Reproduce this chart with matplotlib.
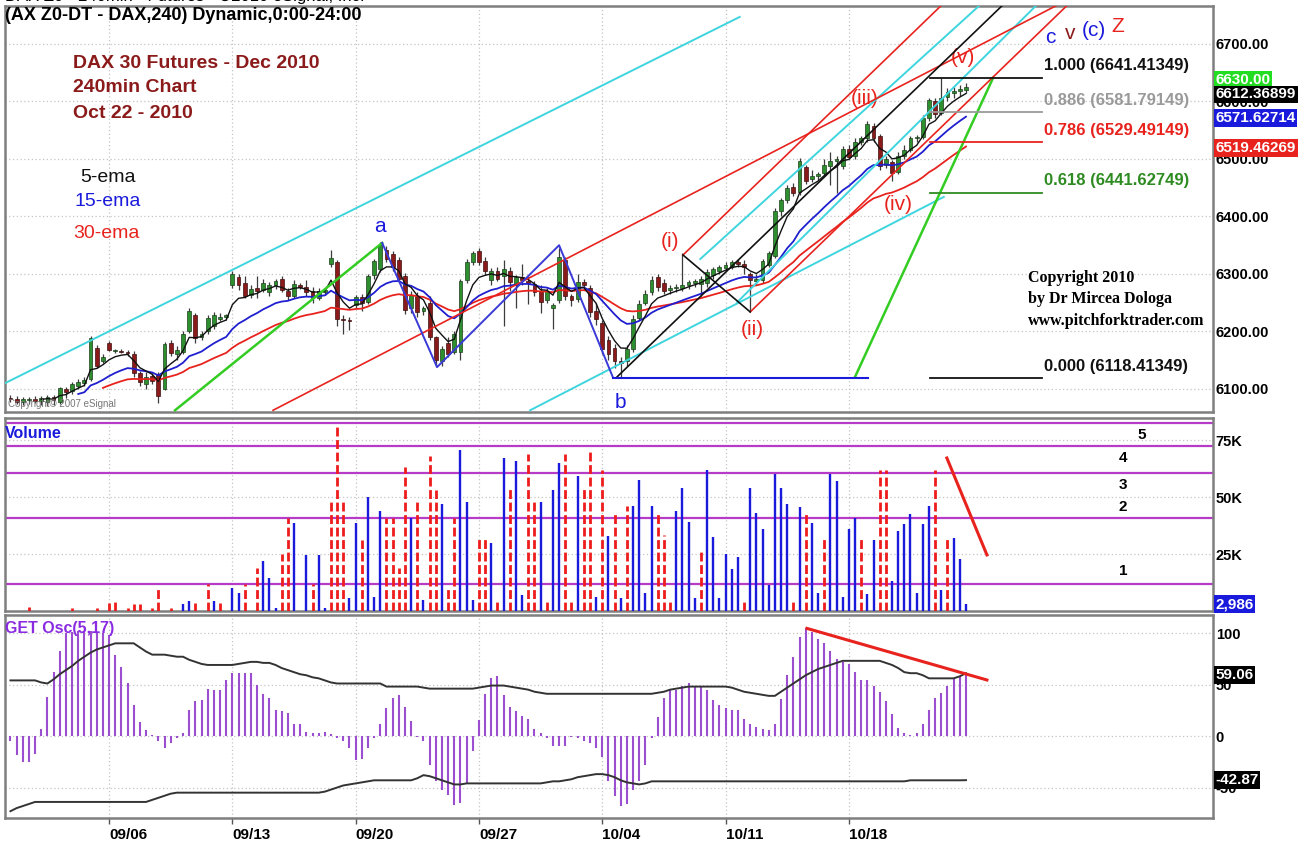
import numpy as np
import pandas as pd
import matplotlib
matplotlib.use("Agg")
import matplotlib.pyplot as plt
import matplotlib.transforms as mtransforms

plt.rcParams['font.family'] = ['Liberation Sans Narrow', 'Liberation Sans', 'DejaVu Sans']

W, H = 1304, 859

# ---- 240 min bars, DAX future Dec 2010 ----
opens = [6084, 6082, 6078, 6080, 6082, 6079, 6078, 6086, 6078, 6100,
         6096, 6106, 6110, 6118, 6172, 6148, 6180, 6166, 6165, 6164,
         6160, 6128, 6108, 6122, 6126, 6100, 6180, 6160, 6165, 6200,
         6228, 6190, 6200, 6210, 6222, 6226, 6280, 6295, 6285, 6264,
         6276, 6272, 6268, 6280, 6292, 6270, 6262, 6280, 6278, 6270,
         6258, 6268, 6318, 6320, 6222, 6220, 6246, 6260, 6252, 6298,
         6308, 6342, 6334, 6324, 6296, 6240, 6262, 6236, 6250, 6190,
         6148, 6180, 6165, 6165, 6290, 6320, 6340, 6322, 6290, 6305,
         6296, 6306, 6280, 6294, 6288, 6282, 6270, 6254, 6240, 6255,
         6325, 6262, 6256, 6286, 6276, 6236, 6215, 6185, 6172, 6148,
         6148, 6170, 6224, 6250, 6268, 6294, 6284, 6272, 6276, 6276,
         6280, 6285, 6282, 6284, 6298, 6306, 6310, 6314, 6320, 6318,
         6300, 6288, 6290, 6316, 6332, 6410, 6428, 6452, 6442, 6486,
         6465, 6470, 6476, 6488, 6496, 6488, 6518, 6506, 6530, 6536,
         6558, 6540, 6490, 6494, 6478, 6506, 6516, 6536, 6538, 6572,
         6600, 6580, 6608, 6614, 6618, 6620]
highs = [6090, 6088, 6086, 6086, 6088, 6087, 6090, 6090, 6104, 6104,
         6112, 6118, 6120, 6192, 6176, 6160, 6184, 6170, 6170, 6168,
         6166, 6132, 6130, 6128, 6130, 6182, 6186, 6175, 6200, 6240,
         6232, 6200, 6228, 6234, 6232, 6230, 6305, 6300, 6296, 6280,
         6296, 6292, 6286, 6292, 6296, 6276, 6290, 6284, 6290, 6278,
         6275, 6276, 6342, 6324, 6228, 6226, 6264, 6266, 6300, 6326,
         6356, 6348, 6340, 6330, 6302, 6270, 6268, 6244, 6262, 6192,
         6175, 6190, 6200, 6292, 6326, 6340, 6346, 6330, 6310, 6312,
         6325, 6312, 6298, 6318, 6296, 6288, 6280, 6276, 6250, 6345,
         6330, 6266, 6300, 6292, 6280, 6250, 6220, 6192, 6178, 6156,
         6176, 6228, 6254, 6272, 6296, 6300, 6292, 6280, 6282, 6336,
         6290, 6292, 6296, 6308, 6312, 6316, 6320, 6324, 6326, 6324,
         6304, 6300, 6326, 6340, 6414, 6432, 6455, 6458, 6502, 6490,
         6480, 6478, 6500, 6512, 6506, 6522, 6524, 6536, 6540, 6566,
         6562, 6544, 6506, 6498, 6512, 6524, 6540, 6542, 6576, 6606,
         6606, 6640, 6624, 6626, 6628, 6632]
lows = [6078, 6074, 6072, 6074, 6076, 6073, 6070, 6072, 6074, 6084,
        6092, 6100, 6105, 6114, 6136, 6146, 6166, 6162, 6162, 6158,
        6120, 6106, 6100, 6108, 6076, 6098, 6158, 6150, 6160, 6198,
        6180, 6186, 6196, 6204, 6218, 6220, 6275, 6272, 6258, 6258,
        6258, 6268, 6262, 6274, 6268, 6255, 6258, 6274, 6262, 6250,
        6254, 6264, 6312, 6210, 6195, 6202, 6240, 6236, 6248, 6292,
        6304, 6320, 6306, 6286, 6230, 6232, 6226, 6228, 6185, 6140,
        6140, 6156, 6160, 6150, 6285, 6316, 6316, 6298, 6280, 6288,
        6210, 6270, 6240, 6280, 6248, 6262, 6232, 6250, 6205, 6250,
        6255, 6245, 6252, 6272, 6225, 6212, 6160, 6150, 6136, 6120,
        6140, 6165, 6220, 6246, 6264, 6270, 6265, 6266, 6268, 6270,
        6274, 6278, 6262, 6278, 6292, 6300, 6306, 6308, 6312, 6300,
        6236, 6280, 6285, 6312, 6328, 6400, 6424, 6436, 6438, 6456,
        6460, 6464, 6472, 6455, 6440, 6482, 6500, 6500, 6524, 6530,
        6530, 6480, 6484, 6462, 6474, 6500, 6512, 6530, 6534, 6566,
        6572, 6576, 6600, 6606, 6610, 6614]
closes = [6082, 6078, 6083, 6082, 6079, 6084, 6086, 6080, 6101, 6094,
          6108, 6112, 6116, 6188, 6140, 6155, 6168, 6167, 6164, 6163,
          6128, 6112, 6120, 6114, 6088, 6178, 6162, 6168, 6196, 6236,
          6188, 6195, 6224, 6228, 6226, 6228, 6300, 6280, 6262, 6274,
          6270, 6284, 6280, 6288, 6272, 6262, 6282, 6278, 6268, 6258,
          6270, 6272, 6328, 6222, 6220, 6219, 6260, 6250, 6296, 6322,
          6350, 6326, 6312, 6292, 6238, 6264, 6234, 6240, 6190, 6150,
          6170, 6160, 6195, 6288, 6320, 6336, 6320, 6305, 6305, 6292,
          6308, 6286, 6294, 6290, 6284, 6268, 6252, 6270, 6246, 6330,
          6262, 6254, 6286, 6280, 6234, 6222, 6170, 6160, 6148, 6146,
          6170, 6222, 6248, 6266, 6290, 6278, 6270, 6275, 6278, 6280,
          6286, 6288, 6292, 6304, 6308, 6312, 6316, 6320, 6318, 6312,
          6290, 6292, 6322, 6336, 6410, 6428, 6450, 6440, 6496, 6462,
          6470, 6474, 6490, 6496, 6500, 6518, 6504, 6530, 6536, 6560,
          6536, 6488, 6500, 6476, 6506, 6516, 6536, 6538, 6572, 6602,
          6578, 6606, 6616, 6618, 6622, 6626]

# ---- volume (thousands of contracts); R = down bar, B = up bar ----
volume_k = [0, 0, 0, 1.7, 0, 0, 0, 0, 0, 0,
            1.5, 0, 0, 0, 1.5, 0, 3.5, 4.5, 0, 1.5,
            3, 3, 0, 1.5, 9.6, 0, 1.5, 0, 3, 4.5,
            3.5, 0, 11.8, 4.5, 3.5, 0, 10, 8, 11.8, 0,
            19, 22, 14.5, 1.5, 25, 40.8, 38.6, 0, 24.4, 12,
            24.4, 1.5, 48, 81.6, 48, 5.6, 38.6, 31, 50, 6,
            44, 41, 41, 19, 63, 41, 48, 5, 68, 53,
            47, 10, 41, 70.6, 48, 5, 33, 32.6, 29.7, 4.8,
            67, 55, 66, 7, 69, 48, 48, 4.8, 53, 65,
            69, 4.8, 59, 55, 70, 6, 62, 33, 44, 5.6,
            46, 46, 57.5, 7.8, 46, 44, 33.3, 4.8, 44, 54,
            39, 5.6, 26.8, 62, 32.4, 5.6, 25, 18.4, 23.6, 4,
            54, 43, 36, 11.2, 60, 54, 47, 4.8, 45.7, 44,
            38.6, 8, 33, 60, 57, 6, 36, 41, 33, 7.5,
            31, 62, 62, 13, 35, 38, 42.6, 8, 38, 46,
            62, 9, 33, 32, 23, 2.986]
volume_dir = ("...R......" "R...R.RR.R" "RR.RR.R.BB" "R.RBR.BBR." "RBBBRRB.BR"
              "BBRRRBBRBB" "BRRRRBRBRR" "BRRBBBRRBR" "BRBBRRBRBB" "RRBRRBRBRB"
              "RBBBBRRRBB" "BBRBBBBBBR" "BBBBBBBRBR" "BBRBBBBBRB" "BRRBBBBBBB"
              "RBRBBB")

# ---- GET oscillator (5,17) and its bands ----
osc = [-5, -18, -25, -25, -17, 7, 38, 62, 83, 100,
       101, 102, 102, 102, 101, 100, 98, 79, 67, 51,
       30, 14, 6, 1, -5, -12, -7, -2, 3, 25,
       34, 35, 46, 45, 45, 54, 61, 61, 61, 61,
       50, 41, 37, 25, 24, 22, 12, 12, 4, 3,
       3, 4, 2, -2, -5, -12, -23, -22, -12, -2,
       12, 27, 37, 40, 28, 15, -1, -5, -28, -44,
       -52, -57, -67, -65, -46, -15, 16, 41, 56, 58,
       40, 28, 24, 19, 17, 7, 3, -2, -10, -10,
       -10, -1, -2, -5, -7, -12, -20, -44, -58, -68,
       -66, -52, -44, -28, -2, 18, 37, 45, 45, 49,
       51, 49, 48, 45, 35, 30, 27, 25, 25, 17,
       12, 9, 7, 6, 12, 36, 59, 77, 96, 105,
       101, 94, 90, 83, 75, 72, 70, 62, 54, 54,
       49, 43, 34, 21, 8, 3, 1, 3, 12, 25,
       37, 42, 49, 56, 58, 59.06]
osc_upper = [54, 54, 54, 54, 54, 52, 51, 55, 60, 64,
             68, 73, 77, 81, 84, 86, 88, 90, 90, 90,
             90, 86, 82, 79, 79, 79, 78, 77, 77, 74,
             72, 70, 69, 69, 69, 69, 69, 70, 71, 72,
             72, 71, 71, 69, 66, 64, 62, 60, 59, 57,
             56, 54, 52, 51, 51, 51, 51, 51, 51, 51,
             51, 48, 48, 48, 48, 48, 48, 47, 46, 46,
             46, 46, 46, 46, 46, 46, 47, 48, 49, 49,
             49, 48, 47, 46, 45, 43, 42, 41, 41, 41,
             41, 41, 41, 41, 41, 41, 41, 41, 41, 41,
             41, 41, 41, 41, 41, 42, 43, 45, 46, 47,
             48, 48, 48, 48, 48, 48, 48, 47, 45, 43,
             42, 41, 40, 39, 39, 43, 47, 51, 55, 59,
             62, 65, 67, 69, 71, 73, 73, 73, 73, 73,
             73, 73, 71, 69, 66, 62, 61, 61, 59, 56,
             56, 56, 56, 56, 58, 61]
osc_lower = [-73, -70, -68, -66, -64, -64, -64, -64, -64, -64,
             -64, -64, -64, -64, -64, -64, -64, -64, -64, -64,
             -64, -64, -64, -62, -60, -58, -56, -55, -55, -55,
             -55, -55, -55, -55, -55, -55, -55, -55, -55, -55,
             -55, -55, -55, -55, -55, -55, -55, -55, -55, -55,
             -55, -54, -52, -50, -48, -47, -46, -45, -44, -43,
             -43, -43, -43, -43, -43, -43, -41, -38, -39, -41,
             -43, -45, -47, -47, -46, -46, -46, -46, -46, -46,
             -46, -46, -46, -46, -46, -46, -46, -45, -44, -44,
             -43, -42, -40, -39, -38, -37, -37, -38, -40, -43,
             -45, -46, -47, -46, -44, -44, -44, -44, -44, -44,
             -44, -44, -44, -44, -44, -44, -44, -44, -44, -44,
             -44, -44, -44, -44, -44, -44, -44, -44, -44, -44,
             -44, -44, -44, -44, -44, -44, -44, -44, -44, -44,
             -44, -44, -44, -44, -44, -44, -43, -43, -43, -43,
             -43, -43, -43, -43, -43, -42.87]

# ---- axes labels ----
week_ticks = [16, 36, 56, 76, 96, 116, 136]
week_labels = ['09/06', '09/13', '09/20', '09/27', '10/04', '10/11', '10/18']
price_ticks = [6100, 6200, 6300, 6400, 6500, 6600, 6700]
vol_ticks = [25, 50, 75]
vol_tick_labels = ['25K', '50K', '75K']
osc_ticks = [-50, 0, 50, 100]

# volume zones
vol_levels = [11.8, 40.8, 60.5, 72.4, 82.5]
zone_labels = ['1', '2', '3', '4', '5']
zone_values = [17.5, 45.6, 55.3, 67.1, 77.2]

# fibonacci retracement
fib_ratios = ['1.000', '0.886', '0.786', '0.618', '0.000']
fib_prices = [6641.41349, 6581.79149, 6529.49149, 6441.62749, 6118.41349]
fib_colors = ['#111111', '#9a9a9a', '#e8231e', '#2e8b22', '#111111']

# hand drawn lines (bar index, price)
cyan_lines = [(-0.9, 6110, 118.3, 6747), (84.3, 6063, 151.4, 6434),
              (111.9, 6326, 157.2, 6767), (117.9, 6251, 166.4, 6767)]
green_lines = [(26.7, 6063, 60.3, 6354), (137.0, 6121, 159.4, 6641)]
black_lines = [(98.4, 6121, 161.0, 6768), (109.1, 6333, 120.0, 6234)]
red_lines = [(42.6, 6063, 169.9, 6768), (109.1, 6333, 151.1, 6768),
             (120.0, 6234, 171.5, 6768)]
wave_x = [60.3, 69.2, 89.0, 97.7]
wave_y = [6354, 6138, 6350, 6121]
base_line = (97.7, 139.1, 6118.4)

# wave labels
wave_labels = [('a', 60.0, 6382, '#1a1adc'), ('b', 98.9, 6077, '#1a1adc'),
               ('(i)', 107.0, 6356, '#e8231e'), ('(ii)', 120.4, 6203, '#e8231e'),
               ('(iii)', 138.6, 6606, '#e8231e'), ('(iv)', 144.0, 6420, '#e8231e'),
               ('(v)', 154.5, 6676, '#e8231e'), ('c', 168.6, 6712, '#1a1adc'),
               ('v', 171.9, 6719, '#8b1a1a'), ('(c)', 175.8, 6724, '#1a1adc'),
               ('Z', 179.7, 6731, '#e8231e')]

price_tags = [('6630.00', 6637, '#22dd22'), ('6612.36899', 6612.37, '#000000'),
              ('6571.62714', 6571.63, '#1a1adc'), ('6519.46269', 6519.46, '#e8231e')]


def box(top, bottom, left=5, right=1213):
    return [left / W, 1 - bottom / H, (right - left) / W, (bottom - top) / H]


def fxy(px, py):
    return px / W, 1 - py / H


fig = plt.figure(figsize=(W / 100, H / 100), dpi=100)
ax_p = fig.add_axes(box(6, 412))
ax_v = fig.add_axes(box(418, 611))
ax_o = fig.add_axes(box(615, 818))

x = np.arange(len(closes))
xlim = (-0.88, 195.07)

for ax in (ax_p, ax_v, ax_o):
    ax.set_xlim(*xlim)
    for s in ax.spines.values():
        s.set_color('#7f7f7f')
        s.set_linewidth(1.8)
    ax.yaxis.tick_right()
    ax.tick_params(axis='y', length=0, pad=2, labelsize=10.5)
    ax.set_xticks(week_ticks)
    ax.grid(True, axis='both', color='#c4c4c4', linestyle=(0, (1, 2)), linewidth=0.9)
    ax.set_axisbelow(True)

for ax in (ax_p, ax_v):
    ax.tick_params(axis='x', length=0, labelbottom=False)

# ---------------- price panel ----------------
o = np.array(opens, float)
h = np.array(highs, float)
l = np.array(lows, float)
c = np.array(closes, float)
up = c >= o
body = np.maximum(np.abs(c - o), 1.6)
ax_p.vlines(x, l, h, color='#3c3c3c', lw=0.9, zorder=2)
ax_p.bar(x[up], body[up], bottom=np.minimum(o, c)[up], width=0.62,
         color='#2e8f2e', edgecolor='#1d3d1d', lw=0.5, zorder=3)
ax_p.bar(x[~up], body[~up], bottom=np.minimum(o, c)[~up], width=0.62,
         color='#8b1a1a', edgecolor='#3d1010', lw=0.5, zorder=3)

cs = pd.Series(closes, dtype=float)
for span, start, col, lw in ((30, 15, '#e8231e', 1.3), (15, 11, '#1f1fd0', 1.3), (5, 5, '#111111', 1.0)):
    ema = cs.ewm(span=span, adjust=False).mean()
    ax_p.plot(x[start:], ema[start:], color=col, lw=lw, zorder=4)

for x0, y0, x1, y1 in cyan_lines:
    ax_p.plot([x0, x1], [y0, y1], color='#3fd5de', lw=1.4, zorder=5)
for x0, y0, x1, y1 in green_lines:
    ax_p.plot([x0, x1], [y0, y1], color='#33cc22', lw=1.8, zorder=5)
for x0, y0, x1, y1 in red_lines:
    ax_p.plot([x0, x1], [y0, y1], color='#e8231e', lw=1.2, zorder=5)
for x0, y0, x1, y1 in black_lines:
    ax_p.plot([x0, x1], [y0, y1], color='#111111', lw=1.2, zorder=5)
ax_p.plot(wave_x, wave_y, color='#3a3ad8', lw=1.4, zorder=5)
ax_p.plot([base_line[0], base_line[1]], [base_line[2]] * 2, color='#1a1adc', lw=1.5, zorder=5)

for ratio, price, col in zip(fib_ratios, fib_prices, fib_colors):
    ax_p.plot([149.2, 167.3], [price, price], color=col, lw=1.3, zorder=5)
    ax_p.annotate(f'{ratio} ({price:.5f})', xy=(167.4, price), xytext=(1, 3),
                  textcoords='offset points', color=col, fontsize=12,
                  fontweight='bold', ha='left', va='bottom')

for txt, xi, yp, col in wave_labels:
    ax_p.text(xi, yp, txt, color=col, fontsize=15, ha='center', va='center',
              fontfamily=['Liberation Sans', 'DejaVu Sans'])

ax_p.set_ylim(6060, 6766)
ax_p.set_yticks(price_ticks)
ax_p.set_yticklabels([f'{v:.2f}' for v in price_ticks], fontweight='bold')

tr = mtransforms.blended_transform_factory(ax_p.transAxes, ax_p.transData)
for txt, val, col in price_tags:
    ax_p.text(1.002, val, txt, transform=tr, color='white', fontsize=11, fontweight='bold',
              ha='left', va='center', clip_on=False, zorder=10,
              bbox=dict(boxstyle='square,pad=0.12', fc=col, ec='none'))

# ---------------- volume panel ----------------
vol = np.array(volume_k)
down = np.array([d != 'B' for d in volume_dir])
ax_v.vlines(x[down], 0, vol[down], colors='#ee1c1c', lw=2.0,
            linestyles=[(0, (3.2, 1.3))], zorder=3)
ax_v.vlines(x[~down], 0, vol[~down], colors='#1a1adc', lw=1.7, zorder=3)
for lv in vol_levels:
    ax_v.axhline(lv, color='#b63cc8', lw=1.6, zorder=2)
for lab, val in zip(zone_labels, zone_values):
    ax_v.text(180.5 if lab != '5' else 183.5, val, lab, fontsize=11, fontweight='bold',
              ha='center', va='center', fontfamily=['Liberation Sans', 'DejaVu Sans'])
ax_v.plot([151.9, 158.4], [67.1, 24.6], color='#e8231e', lw=2.2, zorder=4)
ax_v.set_ylim(0, 84.65)
ax_v.set_yticks(vol_ticks)
ax_v.set_yticklabels(vol_tick_labels, fontweight='bold')
trv = mtransforms.blended_transform_factory(ax_v.transAxes, ax_v.transData)
ax_v.text(1.002, 2.986, '2,986', transform=trv, color='white', fontsize=11, fontweight='bold',
          ha='left', va='center', clip_on=False, zorder=10,
          bbox=dict(boxstyle='square,pad=0.12', fc='#1a1adc', ec='none'))
ax_v.text(0.0, 0.96, 'Volume', transform=ax_v.transAxes, color='#1a1adc', fontsize=11.5,
          fontweight='bold', ha='left', va='top')

# ---------------- oscillator panel ----------------
ax_o.vlines(x, 0, osc, colors='#9b4fd0', lw=1.5, zorder=3)
ax_o.plot(x, osc_upper, color='#333333', lw=1.4, zorder=4)
ax_o.plot(x, osc_lower, color='#333333', lw=1.4, zorder=4)
ax_o.plot([129.2, 158.4], [104.5, 54.4], color='#e8231e', lw=2.2, zorder=5)
ax_o.set_ylim(-79.6, 117.5)
ax_o.set_yticks(osc_ticks)
ax_o.set_yticklabels([str(v) for v in osc_ticks], fontweight='bold')
tro = mtransforms.blended_transform_factory(ax_o.transAxes, ax_o.transData)
for txt, val in (('59.06', 59.06), ('-42.87', -42.87)):
    ax_o.text(1.002, val, txt, transform=tro, color='white', fontsize=11, fontweight='bold',
              ha='left', va='center', clip_on=False, zorder=10,
              bbox=dict(boxstyle='square,pad=0.12', fc='black', ec='none'))
ax_o.text(0.0, 0.97, 'GET Osc(5,17)', transform=ax_o.transAxes, color='#8a2be2', fontsize=11.5,
          fontweight='bold', ha='left', va='top')
ax_o.set_xticklabels(week_labels, fontweight='bold', fontsize=11)
for lbl in ax_o.get_xticklabels():
    lbl.set_ha('left')
ax_o.tick_params(axis='x', length=4, width=1, color='#555555', pad=3)

# ---------------- free text ----------------
fig.text(*fxy(5, 16), '(AX Z0-DT - DAX,240) Dynamic,0:00-24:00', fontsize=13, fontweight='bold',
         ha='left', va='center')
fig.text(*fxy(5, -3), 'DAX Z0 - 240min - Futures - \u00a92010 eSignal, Inc.', fontsize=12,
         ha='left', va='center')
for txt, py in (('DAX 30 Futures - Dec 2010', 63), ('240min Chart', 88), ('Oct 22 - 2010', 114)):
    fig.text(*fxy(73, py), txt, color='#8b1a1a', fontsize=14, fontweight='bold',
             ha='left', va='center')
for txt, px, py, col in (('5-ema', 80, 177, '#111111'), ('15-ema', 75, 202, '#1a1adc'),
                         ('30-ema', 73, 234, '#e8231e')):
    fig.text(*fxy(px, py), txt, color=col, fontsize=14, ha='left', va='center')
for txt, py in (('Copyright 2010', 278), ('by Dr Mircea Dologa', 299), ('www.pitchforktrader.com', 321)):
    fig.text(*fxy(1028, py), txt, fontsize=11.5, fontweight='bold', ha='left', va='center',
             fontfamily=['Liberation Serif', 'DejaVu Serif'])
fig.text(*fxy(8, 404), 'Copyright\u00a9 2007 eSignal', fontsize=7, color='#777777',
         ha='left', va='center')

fig.savefig('out.png', dpi=100, facecolor='white')
